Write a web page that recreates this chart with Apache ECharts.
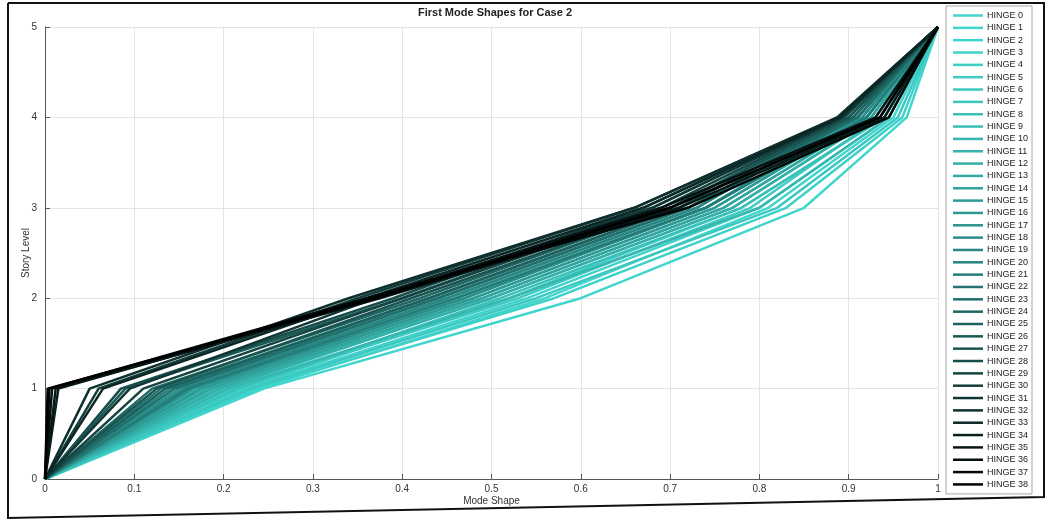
<!DOCTYPE html>
<html>
<head>
<meta charset="utf-8">
<script src="https://cdn.jsdelivr.net/npm/echarts@6/dist/echarts.min.js"></script>
<style>
  html, body { margin: 0; padding: 0; background: #ffffff; }
  #chart { width: 1047px; height: 520px; }
</style>
</head>
<body>
<div id="chart"></div>
<script>
// Story levels (y) and the lateral mode-shape ordinate at each level, per hinge case.
const storyLevels = [0, 1, 2, 3, 4, 5];
const hingeNames = [];
for (let i = 0; i <= 38; i++) hingeNames.push('HINGE ' + i);

// Mode shape at the base and at the roof (normalised)
const baseX = 0;
const roofX = 1;

// Mode shape at story level 1 for HINGE 0 ... HINGE 38
const level1X = [0.245, 0.24, 0.225, 0.235, 0.22, 0.21, 0.23, 0.20, 0.215, 0.19,
                 0.205, 0.18, 0.195, 0.17, 0.185, 0.16, 0.175, 0.15, 0.165, 0.155,
                 0.14, 0.16, 0.13, 0.145, 0.12, 0.135, 0.09, 0.125, 0.085, 0.11,
                 0.06, 0.095, 0.05, 0.065, 0.015, 0.012, 0.008, 0.005, 0.003];
// Mode shape at story level 2
const level2X = [0.60, 0.56, 0.54, 0.57, 0.52, 0.53, 0.55, 0.50, 0.51, 0.49,
                 0.52, 0.48, 0.50, 0.47, 0.49, 0.46, 0.48, 0.45, 0.47, 0.45,
                 0.44, 0.46, 0.43, 0.44, 0.42, 0.43, 0.40, 0.41, 0.39, 0.40,
                 0.35, 0.37, 0.34, 0.36, 0.37, 0.375, 0.365, 0.36, 0.37];
// Mode shape at story level 3
const level3X = [0.85, 0.81, 0.80, 0.83, 0.78, 0.79, 0.82, 0.77, 0.78, 0.76,
                 0.80, 0.75, 0.77, 0.74, 0.76, 0.74, 0.75, 0.73, 0.74, 0.73,
                 0.72, 0.74, 0.71, 0.72, 0.70, 0.71, 0.68, 0.70, 0.67, 0.69,
                 0.66, 0.68, 0.66, 0.67, 0.70, 0.71, 0.69, 0.72, 0.70];
// Mode shape at story level 4
const level4X = [0.965, 0.95, 0.945, 0.96, 0.94, 0.935, 0.955, 0.93, 0.94, 0.925,
                 0.945, 0.92, 0.93, 0.915, 0.925, 0.91, 0.92, 0.905, 0.915, 0.90,
                 0.91, 0.92, 0.90, 0.91, 0.895, 0.905, 0.89, 0.90, 0.888, 0.895,
                 0.887, 0.892, 0.888, 0.89, 0.935, 0.94, 0.93, 0.945, 0.935];

const xTicks = { min: 0, max: 1, interval: 0.1 };
const yTicks = { min: 0, max: 5, interval: 1 };

// Colour ramp from cyan (first hinge) to black (last hinge), darkening faster near the end
const startRGB = [64, 214, 206];
function hingeColor(i, n) {
  const t = i / (n - 1);
  const f = 1 - Math.pow(t, 1.45);
  return 'rgb(' + startRGB.map(c => Math.round(c * f)).join(',') + ')';
}

const series = hingeNames.map((name, i) => {
  const xs = [baseX, level1X[i], level2X[i], level3X[i], level4X[i], roofX];
  const color = hingeColor(i, hingeNames.length);
  return {
    name: name,
    type: 'line',
    data: xs.map((x, k) => [x, storyLevels[k]]),
    symbol: 'none',
    showSymbol: false,
    silent: true,
    animation: false,
    lineStyle: { width: 2.5, color: color },
    itemStyle: { color: color }
  };
});

const axisFont = { fontFamily: 'Liberation Sans, Arial, sans-serif', fontSize: 10, color: '#333' };

const chart = echarts.init(document.getElementById('chart'), null, { renderer: 'canvas' });
chart.setOption({
  animation: false,
  backgroundColor: '#ffffff',
  title: {
    text: 'First Mode Shapes for Case 2',
    left: 490, top: 2, textAlign: 'center',
    textStyle: { fontFamily: 'Liberation Sans, Arial, sans-serif', fontSize: 11, fontWeight: 'bold', color: '#222' }
  },
  grid: { left: 45, top: 27, width: 893, height: 452, containLabel: false },
  xAxis: {
    type: 'value', min: xTicks.min, max: xTicks.max, interval: xTicks.interval,
    name: 'Mode Shape', nameLocation: 'middle', nameGap: 17,
    nameMoveOverlap: false,
    nameTextStyle: axisFont,
    axisLine: { show: true, lineStyle: { color: '#555', width: 1 } },
    axisTick: { show: true, inside: true, length: 5, lineStyle: { color: '#555' } },
    axisLabel: Object.assign({ margin: 5 }, axisFont),
    splitLine: { show: true, lineStyle: { color: '#e4e4e4', width: 1 } }
  },
  yAxis: {
    type: 'value', min: yTicks.min, max: yTicks.max, interval: yTicks.interval,
    name: 'Story Level', nameLocation: 'middle', nameGap: 14,
    nameMoveOverlap: false,
    nameTextStyle: axisFont,
    axisLine: { show: true, lineStyle: { color: '#555', width: 1 } },
    axisTick: { show: true, inside: true, length: 5, lineStyle: { color: '#555' } },
    axisLabel: Object.assign({ margin: 8 }, axisFont),
    splitLine: { show: true, lineStyle: { color: '#e4e4e4', width: 1 } }
  },
  legend: {
    data: hingeNames,
    orient: 'vertical',
    left: 946, top: 6,
    padding: [5, 4, 5, 7],
    icon: 'rect',
    itemWidth: 30, itemHeight: 2.5, itemGap: 3.34,
    backgroundColor: '#ffffff',
    borderColor: '#a8a8a8', borderWidth: 1,
    selectedMode: false,
    textStyle: { fontFamily: 'Liberation Sans, Arial, sans-serif', fontSize: 9, color: '#222', padding: [0, 0, 0, -1] }
  },
  graphic: [{
    type: 'polyline', silent: true, z: 100,
    shape: { points: [[8, 3], [1044, 3], [1044, 497], [8, 518], [8, 3]] },
    style: { stroke: '#111', lineWidth: 2, fill: null }
  }],
  series: series
});
</script>
</body>
</html>
